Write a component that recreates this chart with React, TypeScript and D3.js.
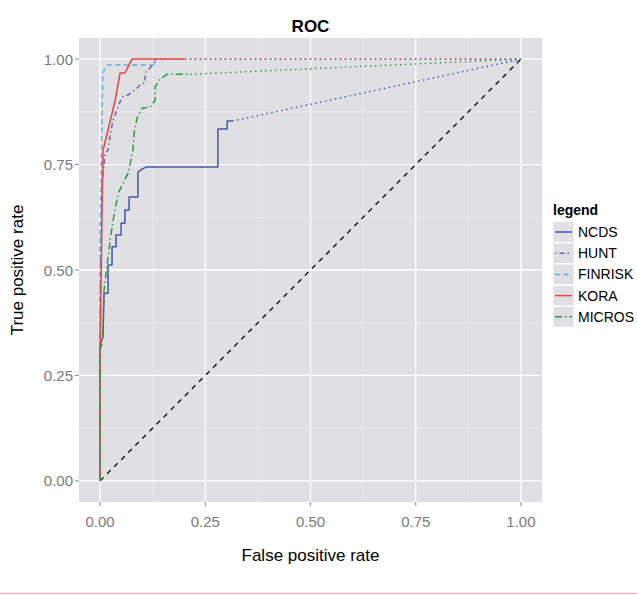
import React from "react";
import * as d3 from "d3";

const seriesNames = ["NCDS", "HUNT", "FINRISK", "KORA", "MICROS"];

const ncdsFpr = [0, 0, 0.007, 0.0095, 0.019, 0.019, 0.0285, 0.0285, 0.038, 0.038, 0.05, 0.05, 0.059, 0.059, 0.069, 0.069, 0.09, 0.09, 0.1, 0.109, 0.28, 0.28, 0.302, 0.302, 0.314];
const ncdsTpr = [0, 0.322, 0.341, 0.445, 0.445, 0.512, 0.512, 0.555, 0.555, 0.583, 0.583, 0.611, 0.611, 0.642, 0.642, 0.673, 0.673, 0.732, 0.739, 0.744, 0.744, 0.834, 0.834, 0.853, 0.853];

const huntFpr = [0, 0, 0.002, 0.005, 0.012, 0.019, 0.024, 0.031, 0.04, 0.052, 0.067, 0.083, 0.095, 0.107, 0.107, 0.119, 0.131, 0.131];
const huntTpr = [0, 0.43, 0.547, 0.706, 0.777, 0.784, 0.82, 0.855, 0.879, 0.91, 0.915, 0.927, 0.938, 0.945, 0.967, 0.979, 0.995, 1.0];

const finriskFpr = [0, 0, 0.002, 0.005, 0.007, 0.014, 0.019, 0.131, 0.131];
const finriskTpr = [0, 0.595, 0.69, 0.903, 0.967, 0.983, 0.986, 0.986, 1.0];

const koraFpr = [0, 0, 0.002, 0.005, 0.007, 0.019, 0.036, 0.0475, 0.059, 0.076, 0.2];
const koraTpr = [0, 0.31, 0.43, 0.666, 0.784, 0.832, 0.903, 0.967, 0.967, 1.0, 1.0];

const microsFpr = [0, 0, 0.005, 0.007, 0.0095, 0.017, 0.024, 0.031, 0.04, 0.043, 0.067, 0.078, 0.081, 0.088, 0.1, 0.119, 0.131, 0.131, 0.143, 0.159, 0.214];
const microsTpr = [0, 0.31, 0.327, 0.374, 0.453, 0.512, 0.571, 0.618, 0.666, 0.682, 0.73, 0.784, 0.825, 0.86, 0.884, 0.886, 0.903, 0.934, 0.953, 0.964, 0.964];

const tickValues = [0, 0.25, 0.5, 0.75, 1];
const minorValues = [0.125, 0.375, 0.625, 0.875];

const colors = ["#4458A6", "#7D62A9", "#5AB3E4", "#E8453F", "#2F9A4C"];
const dashes = ["none", "1.5,3,5,3", "5,3.5", "none", "7,3,1.5,3"];

const seriesData = [
  { name: seriesNames[0], fpr: ncdsFpr, tpr: ncdsTpr },
  { name: seriesNames[1], fpr: huntFpr, tpr: huntTpr },
  { name: seriesNames[2], fpr: finriskFpr, tpr: finriskTpr },
  { name: seriesNames[3], fpr: koraFpr, tpr: koraTpr },
  { name: seriesNames[4], fpr: microsFpr, tpr: microsTpr },
];

export default function App() {
  const W = 637, H = 595;
  const pl = 79, pr = 542, pt = 38, pb = 502;
  const x = d3.scaleLinear().domain([-0.05, 1.05]).range([pl, pr]);
  const y = d3.scaleLinear().domain([-0.05, 1.05]).range([pb, pt]);
  const line = d3.line<[number, number]>().x((d) => x(d[0])).y((d) => y(d[1]));
  const font = "'Liberation Sans', Arial, Helvetica, sans-serif";
  const legendY0 = 232;
  const legendStep = 21.2;

  return (
    <svg width={W} height={H} style={{ position: "absolute", left: 0, top: 0 }} fontFamily={font}>
      <rect x={0} y={0} width={W} height={H} fill="#ffffff" />
      <text x={(pl + pr) / 2} y={32} textAnchor="middle" fontSize={17} fontWeight="bold" fill="#000">ROC</text>
      <rect x={pl} y={pt} width={pr - pl} height={pb - pt} fill="#E0E0E4" />
      {minorValues.map((v) => (
        <g key={"m" + v}>
          <line x1={x(v)} x2={x(v)} y1={pt} y2={pb} stroke="#F0F0F2" strokeWidth={0.6} />
          <line x1={pl} x2={pr} y1={y(v)} y2={y(v)} stroke="#F0F0F2" strokeWidth={0.6} />
        </g>
      ))}
      {tickValues.map((v) => (
        <g key={"t" + v}>
          <line x1={x(v)} x2={x(v)} y1={pt} y2={pb} stroke="#ffffff" strokeWidth={1.3} />
          <line x1={pl} x2={pr} y1={y(v)} y2={y(v)} stroke="#ffffff" strokeWidth={1.3} />
          <line x1={x(v)} x2={x(v)} y1={pb} y2={pb + 4} stroke="#8a8a8a" strokeWidth={1} />
          <line x1={pl - 4} x2={pl} y1={y(v)} y2={y(v)} stroke="#8a8a8a" strokeWidth={1} />
          <text x={x(v)} y={pb + 25} textAnchor="middle" fontSize={15} fill="#7a7a7a">{v.toFixed(2)}</text>
          <text x={pl - 6} y={y(v) + 5.5} textAnchor="end" fontSize={15} fill="#7a7a7a">{v.toFixed(2)}</text>
        </g>
      ))}
      <path d={line([[0, 0], [1, 1]]) || ""} fill="none" stroke="#111" strokeWidth={1.4} strokeDasharray="5,5" />
      {seriesData.map((s, i) => {
        const pts: [number, number][] = s.fpr.map((f, j) => [f, s.tpr[j]]);
        const last = pts[pts.length - 1];
        return (
          <g key={s.name}>
            <path d={line([last, [1, 1]]) || ""} fill="none" stroke={colors[i]} strokeWidth={1.4} strokeDasharray="1.5,3.5" />
            <path d={line(pts) || ""} fill="none" stroke={colors[i]} strokeWidth={1.5} strokeDasharray={dashes[i]} strokeLinejoin="round" />
          </g>
        );
      })}
      <text x={(pl + pr) / 2} y={561} textAnchor="middle" fontSize={17} fill="#000">False positive rate</text>
      <text transform={`translate(23,${(pt + pb) / 2}) rotate(-90)`} textAnchor="middle" fontSize={17} fill="#000">True positive rate</text>
      <text x={553} y={215} fontSize={14} fontWeight="bold" fill="#000">legend</text>
      {seriesNames.map((n, i) => {
        const cy = legendY0 + i * legendStep;
        return (
          <g key={"l" + n}>
            <rect x={553} y={cy - 10.3} width={21} height={20.6} fill="#E0E0E4" stroke="#ffffff" strokeWidth={0.8} />
            <line x1={555} x2={572} y1={cy} y2={cy} stroke={colors[i]} strokeWidth={1.5} strokeDasharray={dashes[i]} />
            <text x={578} y={cy + 5} fontSize={14} fill="#000">{n}</text>
          </g>
        );
      })}
      <line x1={0} x2={W} y1={593.5} y2={593.5} stroke="#F2B3C6" strokeWidth={1.5} />
    </svg>
  );
}
